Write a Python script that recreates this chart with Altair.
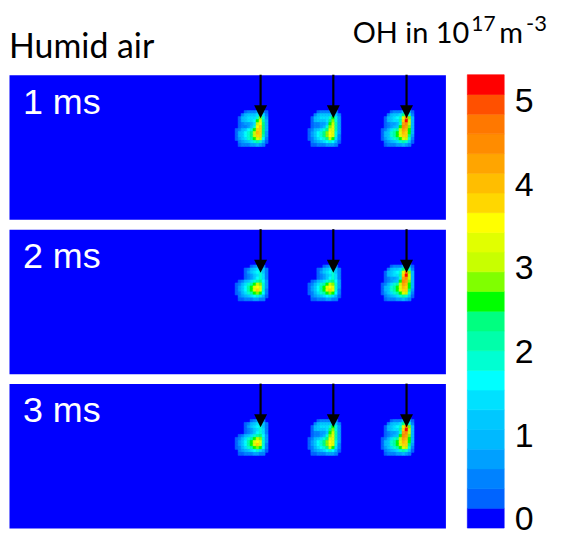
import altair as alt
import numpy as np
import pandas as pd

# ---------------- data ----------------
TIMES = ["1 ms", "2 ms", "3 ms"]
LEFT_TITLE = "Humid air"
CBAR_TITLE_PARTS = ["OH in 10", "17", "m", "-3"]
ARROW_X = [25.25, 32.55, 39.9]          # mm, positions of the three arrows
PANEL_W, PANEL_H = 43.8, 14.5           # mm, simulated domain
ARROW_TIP = 4.37                        # mm below the top
CBAR_MIN, CBAR_MAX = -0.1, 5.32         # 1e17 m^-3
CBAR_TICKS = [0, 1, 2, 3, 4, 5]
BAND_COLORS = [
    "#0000FF", "#0064FF", "#0082FF", "#00A0FF", "#00B9FF", "#00C8FF",
    "#00E1FF", "#00FFFF", "#00FFD2", "#00FFAA", "#00FF80", "#00FF00",
    "#80FF00", "#C8FF00", "#E1FF00", "#FFFF00", "#FFD700", "#FFBE00",
    "#FFA500", "#FF8C00", "#FF7800", "#FF5000", "#FF0000",
]

# OH density maps (1e17 m^-3) of one plume: 13 rows x 12 columns of 0.3 mm cells,
# columns from 2.55 mm left of the arrow, rows from 3.3 mm below the top
STRIPE_YELLOW = """
0   0   0   0   0   0   0   0   0.2 0.1 0   0
0   0   0   0.2 0.4 0.5 0.5 0.7 1.1 0.6 0.2 0
0   0.1 0.5 0.9 1.1 1.2 1.2 1.4 2.1 1.4 0.5 0
0   0.3 0.9 1.3 1.5 1.5 1.5 1.9 2.8 2.0 0.8 0.1
0   0.3 0.9 1.3 1.4 1.4 1.6 2.5 3.3 2.2 0.9 0.1
0   0.2 0.5 0.7 0.8 0.9 1.5 3.0 3.6 2.3 0.9 0.1
0   0.2 0.4 0.6 0.8 1.1 2.0 3.5 3.8 2.4 0.9 0.1
0.2 0.6 1.0 1.3 1.6 2.0 2.7 3.8 3.9 2.4 0.9 0.1
0.3 0.9 1.3 1.7 2.0 2.4 3.0 4.0 3.9 2.3 0.8 0.1
0.3 0.9 1.3 1.7 2.0 2.4 3.0 3.9 3.7 2.1 0.7 0.1
0.2 0.7 1.1 1.5 1.8 2.1 2.6 3.4 3.1 1.7 0.5 0
0.1 0.4 0.8 1.0 1.2 1.5 1.8 2.2 1.9 1.0 0.3 0
0   0.2 0.4 0.5 0.6 0.7 0.8 0.9 0.8 0.4 0.1 0
"""
STRIPE_GREEN = """
0   0   0   0   0   0   0   0   0.2 0.1 0   0
0   0   0   0.2 0.4 0.5 0.5 0.6 1.0 0.5 0.1 0
0   0.1 0.5 0.9 1.1 1.2 1.2 1.3 1.9 1.3 0.4 0
0   0.3 0.9 1.3 1.5 1.5 1.5 1.8 2.6 1.8 0.7 0
0   0.3 0.9 1.2 1.3 1.3 1.5 2.3 2.9 2.0 0.8 0.1
0   0.2 0.5 0.6 0.7 0.8 1.3 2.6 3.1 2.1 0.8 0.1
0   0.2 0.4 0.6 0.8 1.0 1.8 2.9 3.2 2.1 0.8 0.1
0.2 0.5 1.0 1.2 1.5 1.8 2.4 3.2 3.3 2.1 0.8 0.1
0.3 0.8 1.2 1.6 1.9 2.3 2.8 3.5 3.4 2.0 0.7 0.1
0.3 0.8 1.2 1.6 1.9 2.3 2.8 3.6 3.2 1.9 0.6 0.1
0.2 0.6 1.0 1.4 1.7 2.0 2.4 3.0 2.7 1.5 0.5 0
0.1 0.4 0.7 0.9 1.1 1.4 1.7 1.9 1.7 0.9 0.3 0
0   0.2 0.3 0.4 0.5 0.6 0.7 0.8 0.7 0.4 0.1 0
"""
SPOT = """
0   0   0   0   0   0   0   0   0.1 0   0   0
0   0   0   0   0.1 0.3 0.5 0.7 0.9 0.5 0.1 0
0   0   0   0.2 0.5 0.9 1.2 1.4 1.6 1.1 0.4 0
0   0   0   0.3 0.7 1.1 1.4 1.6 1.8 1.3 0.5 0
0   0   0   0.2 0.4 0.7 1.1 1.5 1.9 1.4 0.6 0
0   0   0.1 0.3 0.5 0.7 1.1 1.6 2.0 1.5 0.6 0
0   0.3 0.6 0.9 1.2 1.5 1.9 2.2 2.3 1.7 0.7 0.1
0.2 0.6 1.0 1.4 1.8 2.2 2.7 3.0 2.8 1.9 0.7 0.1
0.3 0.8 1.2 1.7 2.1 2.7 3.3 3.6 3.2 2.0 0.7 0.1
0.3 0.8 1.2 1.7 2.1 2.7 3.4 3.7 3.2 1.9 0.6 0.1
0.2 0.6 1.0 1.4 1.8 2.2 2.7 2.9 2.5 1.6 0.5 0
0.1 0.4 0.7 0.9 1.1 1.4 1.6 1.8 1.5 1.0 0.3 0
0   0.2 0.3 0.4 0.5 0.6 0.7 0.7 0.6 0.4 0.1 0
"""
STRIPE_ORANGE = """
0   0   0   0   0   0   0   0   0.2 0.2 0   0
0   0   0   0.2 0.4 0.5 0.6 1.0 1.7 1.0 0.2 0
0   0.1 0.5 0.9 1.1 1.2 1.4 2.3 3.5 2.0 0.6 0
0   0.3 0.9 1.3 1.5 1.6 1.9 3.3 4.8 2.8 0.9 0.1
0   0.3 0.9 1.3 1.4 1.5 2.1 3.9 5.1 3.1 1.0 0.1
0   0.2 0.5 0.7 0.8 1.0 2.0 4.3 4.6 3.0 1.0 0.1
0   0.2 0.5 0.7 0.9 1.3 2.5 4.6 4.2 2.8 1.0 0.1
0.2 0.6 1.0 1.4 1.8 2.2 3.1 4.3 4.0 2.7 1.0 0.1
0.3 0.9 1.3 1.8 2.1 2.6 3.4 4.1 3.9 2.6 0.9 0.1
0.3 0.9 1.3 1.8 2.1 2.6 3.3 3.9 3.7 2.4 0.8 0.1
0.2 0.7 1.1 1.5 1.8 2.2 2.7 3.4 3.1 1.9 0.6 0
0.1 0.4 0.8 1.0 1.2 1.5 1.8 2.2 1.9 1.1 0.3 0
0   0.2 0.4 0.5 0.6 0.7 0.8 0.9 0.8 0.4 0.1 0
"""
PLUMES = [
    [STRIPE_YELLOW, STRIPE_GREEN, STRIPE_ORANGE],   # 1 ms
    [SPOT, SPOT, STRIPE_ORANGE],                    # 2 ms
    [SPOT, STRIPE_GREEN, STRIPE_ORANGE],            # 3 ms
]
CELL = 0.3
GRID_LEFT = -2.55
GRID_TOP = 3.3

# ---------------- tables built from the data ----------------
rows = []
for p, plumes in enumerate(PLUMES):
    for ax, grid in zip(ARROW_X, plumes):
        vals = [[float(v) for v in line.split()] for line in grid.strip().splitlines()]
        for r, line in enumerate(vals):
            for c, v in enumerate(line):
                if v <= 0.13:
                    continue
                x0 = ax + GRID_LEFT + c * CELL
                y0 = GRID_TOP + r * CELL
                rows.append(dict(panel=p, x0=x0, x1=x0 + CELL, y0=y0, y1=y0 + CELL, v=v))
cells = pd.DataFrame(rows)

edges = np.linspace(CBAR_MIN, CBAR_MAX, len(BAND_COLORS) + 1)
bands = pd.DataFrame({"lo": edges[:-1], "hi": edges[1:], "mid": (edges[:-1] + edges[1:]) / 2})
cscale = alt.Scale(type="threshold", domain=[float(e) for e in edges[1:-1]], range=BAND_COLORS)

arrows = pd.DataFrame({"x": ARROW_X, "top": 0.0, "shaft": ARROW_TIP - 0.6, "head": ARROW_TIP - 0.65})

xs = alt.Scale(domain=[0, PANEL_W], nice=False, zero=False)
ys = alt.Scale(domain=[0, PANEL_H], nice=False, zero=False, reverse=True)


def panel(i):
    heat = alt.Chart(cells[cells.panel == i]).mark_rect(strokeWidth=0.6).encode(
        x=alt.X("x0:Q", scale=xs, axis=None), x2="x1:Q",
        y=alt.Y("y0:Q", scale=ys, axis=None), y2="y1:Q",
        color=alt.Color("v:Q", scale=cscale, legend=None),
        stroke=alt.Stroke("v:Q", scale=cscale, legend=None),
    )
    shaft = alt.Chart(arrows).mark_rule(color="black", strokeWidth=2.2).encode(
        x=alt.X("x:Q", scale=xs, axis=None),
        y=alt.Y("top:Q", scale=ys, axis=None), y2="shaft:Q",
    )
    head = alt.Chart(arrows).mark_point(
        shape="M-1,-1L1,-1L0,1Z", filled=True, color="black", opacity=1, size=169
    ).encode(
        x=alt.X("x:Q", scale=xs, axis=None),
        y=alt.Y("head:Q", scale=ys, axis=None),
    )
    label = alt.Chart(pd.DataFrame({"t": [TIMES[i]]})).mark_text(
        align="left", baseline="middle", color="white", fontSize=36, font="Liberation Sans"
    ).encode(text="t:N", x=alt.value(14), y=alt.value(28))
    return alt.layer(heat, shaft, head, label).properties(
        width=438, height=145, view=alt.ViewBackground(fill="#0000FF", stroke="transparent")
    )


cbar = alt.Chart(bands).mark_rect(strokeWidth=0.6).encode(
    y=alt.Y("lo:Q", scale=alt.Scale(domain=[CBAR_MIN, CBAR_MAX], nice=False, zero=False),
            axis=alt.Axis(orient="right", values=CBAR_TICKS, title=None, ticks=False, domain=False,
                          grid=False, labelFontSize=34, labelFont="Liberation Sans",
                          labelColor="black", labelPadding=10, format="d")),
    y2="hi:Q",
    color=alt.Color("mid:Q", scale=cscale, legend=None),
    stroke=alt.Stroke("mid:Q", scale=cscale, legend=None),
).properties(width=37, height=455)


def htext(txt, x, y, size):
    return alt.Chart(pd.DataFrame({"t": [txt]})).mark_text(
        align="left", baseline="alphabetic", fontSize=size, font="Lato", color="black"
    ).encode(text="t:N", x=alt.value(x), y=alt.value(y))


header = alt.layer(
    htext(LEFT_TITLE, 0, 48, 34),
    htext(CBAR_TITLE_PARTS[0], 345, 33, 29),
    htext(CBAR_TITLE_PARTS[1], 464, 21, 21),
    htext(CBAR_TITLE_PARTS[2], 492, 33, 29),
    htext(CBAR_TITLE_PARTS[3], 519, 21, 22),
).properties(width=550, height=57)

left = alt.vconcat(panel(0), panel(1), panel(2), spacing=10, bounds="flush")
body = alt.hconcat(left, cbar, spacing=20)
chart = alt.vconcat(header, body, spacing=8, bounds="flush").properties(padding=0).configure_view(
    stroke="transparent"
)

chart.save("out.html", embed_options={"renderer": "svg", "actions": False})
